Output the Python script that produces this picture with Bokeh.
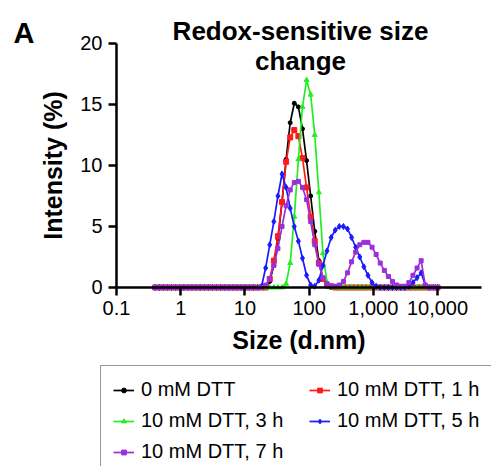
from bokeh.plotting import figure
from bokeh.models import (ColumnDataSource, FixedTicker, Label, Legend, LegendItem,
                          Range1d)
from bokeh.embed import file_html
from bokeh.resources import INLINE

sizes = [0.4, 0.4632, 0.5365, 0.6213, 0.7195, 0.8332, 0.9649, 1.117, 1.294, 1.499,
         1.736, 2.01, 2.328, 2.696, 3.122, 3.615, 4.187, 4.849, 5.615, 6.503,
         7.531, 8.721, 10.1, 11.7, 13.54, 15.69, 18.17, 21.04, 24.36, 28.21,
         32.67, 37.84, 43.82, 50.75, 58.77, 68.06, 78.82, 91.28, 105.7, 122.4,
         141.8, 164.2, 190.1, 220.2, 255.0, 295.3, 342.0, 396.1, 458.7, 531.2,
         615.1, 712.4, 825.0, 955.4, 1106, 1281, 1484, 1718, 1990, 2305,
         2669, 3091, 3580, 4145, 4801, 5560, 6439, 7456, 8635, 10000]

z22 = [0.0] * 22
dtt_0 = z22 + [0, 0, 0, 0, 0, 0, 0.5, 1.8, 4.0, 7.0,
               10.5, 13.5, 15.1, 14.8, 13.0, 10.4, 7.5, 4.6, 2.2, 0.7,
               0.1, 0, 0, 0, 0, 0, 0, 0, 0, 0,
               0, 0, 0, 0, 0, 0, 0, 0, 0, 0,
               0, 0, 0, 0, 0, 0, 0, 0]
dtt_1h = z22 + [0, 0, 0, 0, 0, 0, 0.7, 2.2, 4.2, 7.0,
                10.3, 12.3, 12.9, 12.4, 10.6, 8.2, 5.8, 3.8, 2.0, 0.7,
                0.2, 0.1, 0, 0, 0, 0, 0, 0, 0, 0,
                0, 0, 0, 0, 0, 0, 0, 0, 0, 0,
                0, 0, 0, 0, 0, 0, 0, 0]
dtt_3h = z22 + [0, 0, 0, 0, 0, 0, 0, 0, 0, 0,
                0.3, 2.0, 5.8, 10.5, 14.8, 17.0, 15.8, 12.5, 7.8, 2.8,
                0.4, 0, 0, 0, 0, 0, 0, 0, 0, 0,
                0, 0, 0, 0, 0, 0, 0, 0, 0, 0,
                0, 0, 0, 0, 0, 0, 0, 0]
dtt_5h = z22 + [0, 0, 0, 0, 0.1, 1.6, 3.5, 5.4, 7.5, 9.3,
                8.2, 6.5, 5.0, 3.8, 2.4, 1.0, 0.2, 0.1, 0.6, 1.8,
                3.0, 4.1, 4.7, 5.0, 5.0, 4.8, 4.1, 3.3, 2.5, 1.7,
                1.0, 0.4, 0.1, 0, 0, 0, 0, 0, 0, 0,
                0.1, 0.4, 0.8, 1.2, 0.2, 0, 0, 0]
dtt_7h = z22 + [0, 0, 0, 0, 0, 0.2, 0.7, 1.8, 3.2, 5.0,
                6.7, 8.0, 8.6, 8.7, 8.2, 7.2, 5.4, 3.5, 1.9, 0.8,
                0.3, 0.1, 0.1, 0.2, 0.5, 1.2, 2.1, 2.9, 3.5, 3.7,
                3.7, 3.3, 2.7, 2.0, 1.4, 0.9, 0.5, 0.2, 0.1, 0.1,
                0.4, 1.0, 1.6, 2.2, 0.2, 0, 0, 0]

labels = ["0 mM DTT", "10 mM DTT, 1 h", "10 mM DTT, 3 h", "10 mM DTT, 5 h", "10 mM DTT, 7 h"]
series = [dtt_0, dtt_1h, dtt_3h, dtt_5h, dtt_7h]
colors = ["#000000", "#ff1a1a", "#22ee22", "#1a1aff", "#9b30d9"]
markers = ["circle", "square", "triangle", "diamond", "square"]
msizes = [4, 5, 5, 6, 4]

x_ticks = [0.1, 1, 10, 100, 1000, 10000]
x_tick_labels = ["0.1", "1", "10", "100", "1,000", "10,000"]
y_ticks = [0, 5, 10, 15, 20]

FONT = "Liberation Sans"

# frame covers the whole canvas; axes are pinned with fixed_location
p = figure(width=491, height=466, x_axis_type="log",
           x_range=Range1d(0.00156, 69300), y_range=Range1d(-14.67, 23.52),
           output_backend="svg", toolbar_location=None,
           min_border_left=0, min_border_right=0, min_border_top=0,
           min_border_bottom=0)
p.outline_line_color = None
p.xgrid.visible = False
p.ygrid.visible = False
p.background_fill_color = "white"
p.border_fill_color = "white"

for ax in (p.xaxis[0], p.yaxis[0]):
    ax.axis_line_width = 2.5
    ax.axis_line_color = "black"
    ax.major_tick_line_width = 2.5
    ax.major_tick_line_color = "black"
    ax.major_tick_in = 0
    ax.major_tick_out = 8
    ax.minor_tick_line_color = None
    ax.major_label_text_font = FONT
    ax.major_label_text_font_size = "20px"
    ax.major_label_text_color = "black"
    ax.axis_label_text_font = FONT
    ax.axis_label_text_font_size = "25px"
    ax.axis_label_text_font_style = "bold"
    ax.axis_label_text_color = "black"

p.xaxis.fixed_location = 0
p.xaxis.ticker = FixedTicker(ticks=x_ticks)
p.xaxis.major_label_overrides = {t: l for t, l in zip(x_ticks, x_tick_labels)}
p.xaxis.major_label_standoff = 6
p.xaxis.axis_label = "Size (d.nm)"
p.xaxis.axis_label_standoff = 7
p.xaxis.bounds = (0.1, 48400)

p.yaxis.fixed_location = 0.1
p.yaxis.ticker = FixedTicker(ticks=y_ticks)
p.yaxis.major_label_standoff = 6
p.yaxis.axis_label = "Intensity (%)"
p.yaxis.axis_label_standoff = 10
p.yaxis.bounds = (0, 20)

items = []
for lab, ys, c, m, ms in zip(labels, series, colors, markers, msizes):
    src = ColumnDataSource(dict(x=sizes, y=ys))
    r1 = p.line("x", "y", source=src, line_color=c, line_width=1.7)
    r2 = p.scatter("x", "y", source=src, marker=m, size=ms, fill_color=c, line_color=c)
    items.append(LegendItem(label=lab, renderers=[r1, r2]))

legend = Legend(items=items, orientation="horizontal", ncols=2,
                location=(100, -10), label_text_font=FONT, label_text_font_size="20px",
                label_text_color="black",
                glyph_width=21, glyph_height=12, label_standoff=7, label_width=160,
                label_height=23, spacing=8, padding=12, margin=0,
                border_line_color="#333333", border_line_width=1.5,
                background_fill_color="white", background_fill_alpha=1.0)
p.add_layout(legend, "center")

def add_label(text, sx, sy, size, align="center"):
    p.add_layout(Label(x=sx, y=sy, x_units="screen", y_units="screen", text=text,
                       text_font=FONT, text_font_size=size, text_font_style="bold",
                       text_align=align, text_baseline="alphabetic",
                       text_color="black"))

add_label("Redox-sensitive size", 300, 436, "26px")
add_label("change", 300, 406, "26px")
add_label("A", 13, 434, "29px", align="left")

open("out.html", "w").write(file_html(p, INLINE))
